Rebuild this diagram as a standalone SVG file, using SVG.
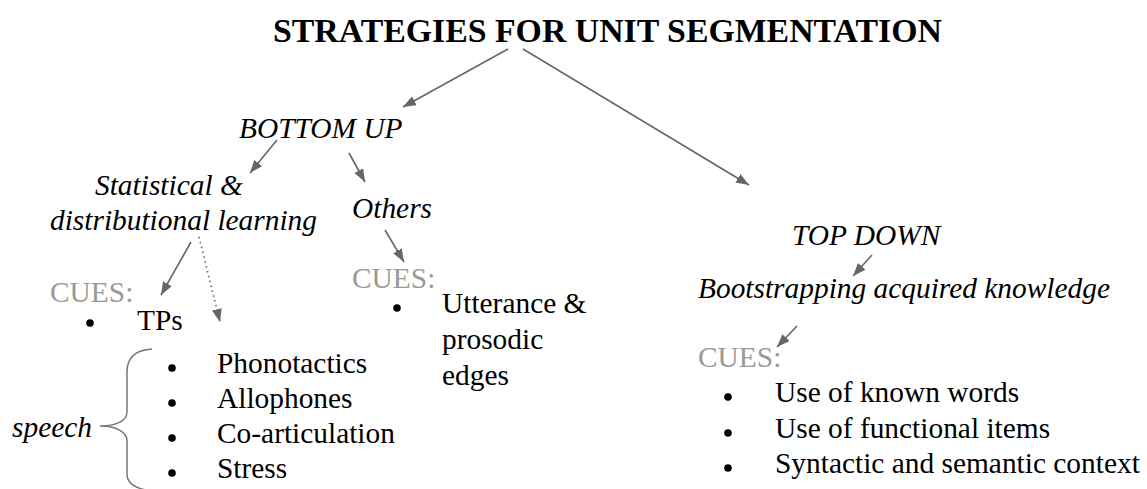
<svg xmlns="http://www.w3.org/2000/svg" width="1147" height="489" viewBox="0 0 1147 489" font-family="'Liberation Serif', 'Times New Roman', serif">
  <defs>
    <marker id="head" viewBox="0 0 13 10" refX="13" refY="5" markerWidth="13" markerHeight="10" markerUnits="userSpaceOnUse" orient="auto">
      <path d="M0,0 L13,5 L0,10 Z" fill="#666666"/>
    </marker>
    <style>
      text { font-family: 'Liberation Serif', 'Times New Roman', serif; font-size: 29.4px; fill: #000000; }
      .title { font-size: 33.8px; font-weight: bold; }
      .it { font-style: italic; }
      .cue { fill: #999999; }
      .dot { fill: #000000; }
      .edge { stroke: #666666; stroke-width: 1.6; fill: none; marker-end: url(#head); }
      .dotted { stroke-dasharray: 1.5 3.5; }
      .brace { stroke: #777777; stroke-width: 1.5; fill: none; }
    </style>
  </defs>
  <rect width="1147" height="489" fill="#ffffff"/>

  <g id="title">
    <text class="title" x="273" y="42">STRATEGIES FOR UNIT SEGMENTATION</text>
  </g>

  <g id="bottom-up">
    <text class="it" x="239" y="138">BOTTOM UP</text>
  </g>

  <g id="statistical">
    <text class="it" x="95" y="195">Statistical &amp;</text>
    <text class="it" x="50" y="230">distributional learning</text>
  </g>

  <g id="others">
    <text class="it" x="352" y="218">Others</text>
  </g>

  <g id="top-down">
    <text class="it" x="792" y="245">TOP DOWN</text>
  </g>

  <g id="bootstrapping">
    <text class="it" x="698" y="298">Bootstrapping acquired knowledge</text>
  </g>

  <g id="cues-statistical">
    <text class="cue" x="50" y="302">CUES:</text>
    <circle class="dot" cx="90" cy="323" r="3.8"/>
    <text x="137" y="330">TPs</text>
  </g>

  <!-- speech cues grouped by a curly brace -->
  <g id="speech-cues">
    <path class="brace" d="M152,349 C135,350 127,358 127,372 L127,412 C127,421 116,426 100,426 C116,426 127,432 127,441 L127,474 C127,484 136,489 152,491"/>
    <text class="it" x="12" y="437">speech</text>
    <circle class="dot" cx="172" cy="368" r="3.8"/>
    <text x="217" y="373">Phonotactics</text>
    <circle class="dot" cx="172" cy="403" r="3.8"/>
    <text x="217" y="408">Allophones</text>
    <circle class="dot" cx="172" cy="438" r="3.8"/>
    <text x="217" y="443">Co-articulation</text>
    <circle class="dot" cx="172" cy="473" r="3.8"/>
    <text x="217" y="478">Stress</text>
  </g>

  <g id="cues-others">
    <text class="cue" x="352" y="288">CUES:</text>
    <circle class="dot" cx="397" cy="308" r="3.8"/>
    <text x="442" y="313">Utterance &amp;</text>
    <text x="442" y="349">prosodic</text>
    <text x="442" y="385">edges</text>
  </g>

  <g id="cues-top-down">
    <text class="cue" x="698" y="367">CUES:</text>
    <circle class="dot" cx="728" cy="397" r="3.8"/>
    <text x="775" y="402">Use of known words</text>
    <circle class="dot" cx="728" cy="433" r="3.8"/>
    <text x="775" y="438">Use of functional items</text>
    <circle class="dot" cx="728" cy="468" r="3.8"/>
    <text x="775" y="473">Syntactic and semantic context</text>
  </g>

  <g id="connectors">
    <line class="edge" x1="508" y1="49" x2="403" y2="107"/>
    <line class="edge" x1="523" y1="49" x2="749" y2="185"/>
    <line class="edge" x1="277" y1="140" x2="250" y2="173"/>
    <line class="edge" x1="349" y1="153" x2="365" y2="182"/>
    <line class="edge" x1="191" y1="242" x2="161" y2="295"/>
    <line class="edge dotted" x1="199" y1="237" x2="220" y2="322"/>
    <line class="edge" x1="385" y1="230" x2="404" y2="262"/>
    <line class="edge" x1="872" y1="255" x2="853" y2="276"/>
    <line class="edge" x1="797" y1="326" x2="777" y2="347"/>
  </g>
</svg>
